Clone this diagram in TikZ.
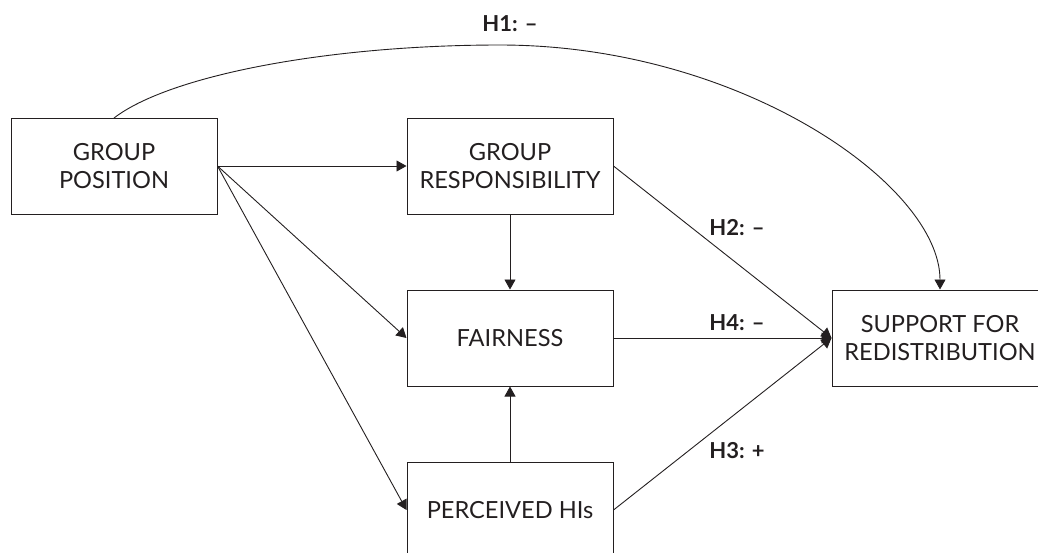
\documentclass[tikz,border=0pt]{standalone}
\usepackage{fontspec}
\setmainfont{Lato}
\usetikzlibrary{arrows.meta}
\definecolor{ink}{HTML}{231F20}
\begin{document}
\begin{tikzpicture}[x=1pt,y=-1pt,
  box/.style={draw=ink,line width=1pt,minimum width=206pt,minimum height=96pt,inner sep=0pt,
    align=center,text=ink,font=\fontsize{23.6}{28}\selectfont},
  conn/.style={draw=ink,line width=0.9pt,-{Triangle[length=10pt,width=11pt]}},
  hyp/.style={text=ink,font=\fontsize{22}{26}\selectfont\bfseries,inner sep=0pt}]
\useasboundingbox (0,0) rectangle (1038,552);
\node[box] (gp) at (114,166) {GROUP\\POSITION};
\node[box] (gr) at (510,166) {GROUP\\RESPONSIBILITY};
\node[box] (fa) at (510,338) {FAIRNESS};
\node[box] (hi) at (510,510) {PERCEIVED HIs};
\node[box,minimum width=216pt] (su) at (940,338) {SUPPORT FOR\\REDISTRIBUTION};
\coordinate (h1s) at (114,118);
\coordinate (h1top) at (500,45);
\draw[conn] (gp.east) -- (gr.west);
\draw[conn] (gp.east) -- (fa.west);
\draw[conn] (gp.east) -- (hi.west);
\draw[conn] (gr.south) -- (fa.north);
\draw[conn] (hi.north) -- (fa.south);
\draw[conn] (gr.east) -- (su.west);
\draw[conn] (fa.east) -- (su.west);
\draw[conn] (hi.east) -- (su.west);
\draw[conn] (h1s) .. controls (170,75) and (330,45) .. (h1top)
  .. controls (740,45) and (940,185) .. (su.north);
\node[hyp] (l1) at (510,24) {H1: –};
\node[hyp] (l2) at (737,228) {H2: –};
\node[hyp] (l4) at (737,323) {H4: –};
\node[hyp] (l3) at (737,451) {H3: +};
\end{tikzpicture}
\end{document}
